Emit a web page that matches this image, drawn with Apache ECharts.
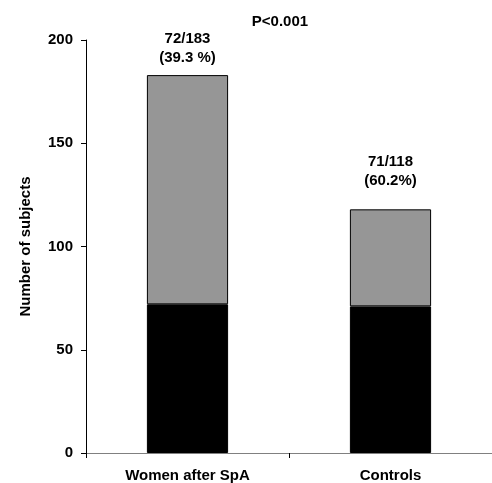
<!DOCTYPE html>
<html><head><meta charset="utf-8">
<script src="https://cdn.jsdelivr.net/npm/echarts@6/dist/echarts.min.js"></script>
<style>html,body{margin:0;padding:0;background:#fff}#c{width:492px;height:483px}</style>
</head><body><div id="c"></div>
<script>
var categories = ['Women after SpA', 'Controls'];
var blackValues = [72, 71];
var grayValues = [111, 47];
var topLabels = ['72/183\n(39.3 %)', '71/118\n(60.2%)'];
var yTicks = [0, 50, 100, 150, 200];
var pText = 'P<0.001';

var chart = echarts.init(document.getElementById('c'));
var font = 'Liberation Sans, Arial, sans-serif';
var fs = 15;
var labelGap = [8, 19];
chart.setOption({
  animation: false,
  title: { text: pText, left: 275, top: 9, textAlign: 'center',
    textStyle: { fontFamily: font, fontSize: fs, fontWeight: 'bold', color: '#000' } },
  grid: { left: 86, right: -2, top: 40, bottom: 30 },
  xAxis: { type: 'category', data: categories,
    axisLine: { lineStyle: { color: '#808080', width: 1 } },
    axisTick: { show: true, alignWithLabel: false, length: 5, lineStyle: { color: '#000' } },
    axisLabel: { fontFamily: font, fontSize: fs, fontWeight: 'bold', color: '#000', margin: 15 } },
  yAxis: { type: 'value', min: yTicks[0], max: yTicks[yTicks.length - 1], interval: 50,
    name: 'Number of subjects', nameLocation: 'middle', nameGap: 53,
    nameTextStyle: { fontFamily: font, fontSize: fs, fontWeight: 'bold', color: '#000' },
    axisLine: { show: true, lineStyle: { color: '#000', width: 1 } },
    axisTick: { show: true, length: 5, lineStyle: { color: '#000' } },
    splitLine: { show: false },
    axisLabel: { fontFamily: font, fontSize: fs, fontWeight: 'bold', color: '#000', margin: 13 } },
  series: [
    { type: 'bar', stack: 's', data: blackValues, barWidth: '40%',
      itemStyle: { color: '#000', borderColor: '#000', borderWidth: 1 } },
    { type: 'bar', stack: 's', barWidth: '40%',
      data: grayValues.map(function (v, i) {
        return { value: v, label: { distance: labelGap[i] } };
      }),
      itemStyle: { color: '#969696', borderColor: '#000', borderWidth: 1 },
      label: { show: true, position: 'top',
        formatter: function (p) { return topLabels[p.dataIndex]; },
        fontFamily: font, fontSize: fs, fontWeight: 'bold', color: '#000', lineHeight: 19 } }
  ]
});
</script></body></html>
